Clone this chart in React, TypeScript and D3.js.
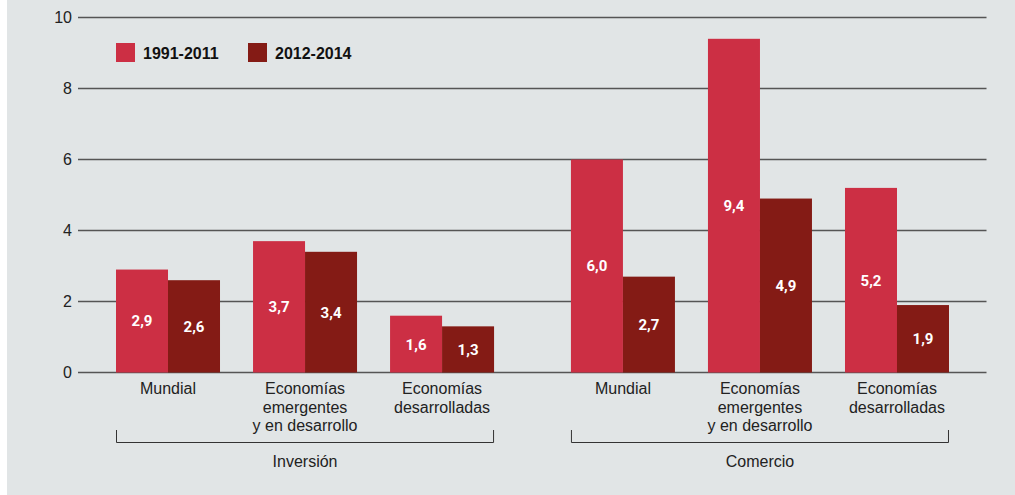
import React from 'react';
import * as d3 from 'd3';

const panels = ['Inversión', 'Comercio'];
const categories = ['Mundial', 'Emergentes', 'Desarrolladas'];
const categoryLabels = [['Mundial'], ['Economías', 'emergentes', 'y en desarrollo'], ['Economías', 'desarrolladas']];
const series = ['1991-2011', '2012-2014'];
const inversion1991 = [2.9, 3.7, 1.6];
const inversion2012 = [2.6, 3.4, 1.3];
const comercio1991 = [6.0, 9.4, 5.2];
const comercio2012 = [2.7, 4.9, 1.9];
const yTicks = [0, 2, 4, 6, 8, 10];

const colors = ['#cc2f44', '#841b15'];
const W = 1015;
const H = 495;

export default function App() {
  const y = d3.scaleLinear().domain([0, 10]).range([372.5, 17.5]);
  const xPanel = d3.scaleBand<string>().domain(panels).range([80, 985]).paddingInner(0.0967).paddingOuter(0.043);
  const xCat = d3.scaleBand<string>().domain(categories).range([0, xPanel.bandwidth()]).paddingInner(0.241).paddingOuter(0.12);
  const xSer = d3.scaleBand<string>().domain(series).range([0, xCat.bandwidth()]);
  const fmt = (v: number) => d3.format('.1f')(v).replace('.', ',');

  const panelData = [
    [inversion1991, inversion2012],
    [comercio1991, comercio2012],
  ];

  const font = 'Liberation Sans, Arial, sans-serif';

  return (
    <svg width={W} height={H} style={{ position: 'absolute', left: 0, top: 0 }}>
      <rect x={7} y={0} width={W - 7} height={H} fill="#e1e5e6" />
      {yTicks.map((t) => (
        <g key={t}>
          <line x1={78} x2={986.5} y1={y(t)} y2={y(t)} stroke="#555" strokeWidth={1.6} />
          <text x={72} y={y(t)} dy="0.35em" textAnchor="end" fontFamily={font} fontSize={16} fill="#222">
            {t}
          </text>
        </g>
      ))}
      {panels.map((p, pi) => {
        const px = xPanel(p)!;
        const first = px + xCat(categories[0])!;
        const last = px + xCat(categories[categories.length - 1])! + xCat.bandwidth();
        return (
          <g key={p}>
            {categories.map((c, ci) => {
              const cx = px + xCat(c)!;
              return (
                <g key={c}>
                  {series.map((s, si) => {
                    const v = panelData[pi][si][ci];
                    const bx = cx + xSer(s)!;
                    return (
                      <g key={s}>
                        <rect x={bx} y={y(v)} width={xSer.bandwidth()} height={y(0) - y(v)} fill={colors[si]} />
                        <text
                          x={bx + xSer.bandwidth() / 2}
                          y={(y(v) + y(0)) / 2}
                          dy="0.36em"
                          textAnchor="middle"
                          fontFamily="Roboto, sans-serif"
                          fontWeight={700}
                          fontSize={15}
                          fill="#fff"
                        >
                          {fmt(v)}
                        </text>
                      </g>
                    );
                  })}
                  {categoryLabels[ci].map((line, li) => (
                    <text
                      key={li}
                      x={cx + xCat.bandwidth() / 2}
                      y={394 + li * 18.5}
                      textAnchor="middle"
                      fontFamily={font}
                      fontSize={16}
                      fill="#222"
                    >
                      {line}
                    </text>
                  ))}
                </g>
              );
            })}
            <path
              d={`M${first + 0.5},430V442.5H${last - 0.5}V430`}
              fill="none"
              stroke="#333"
              strokeWidth={1}
            />
            <text x={(first + last) / 2} y={467} textAnchor="middle" fontFamily={font} fontSize={16} fill="#222">
              {p}
            </text>
          </g>
        );
      })}
      {series.map((s, si) => {
        const lx = 116 + si * 132;
        return (
          <g key={s}>
            <rect x={lx} y={43} width={19} height={19} fill={colors[si]} />
            <text x={lx + 27} y={59} fontFamily={font} fontWeight={700} fontSize={16} fill="#111">
              {s}
            </text>
          </g>
        );
      })}
    </svg>
  );
}
